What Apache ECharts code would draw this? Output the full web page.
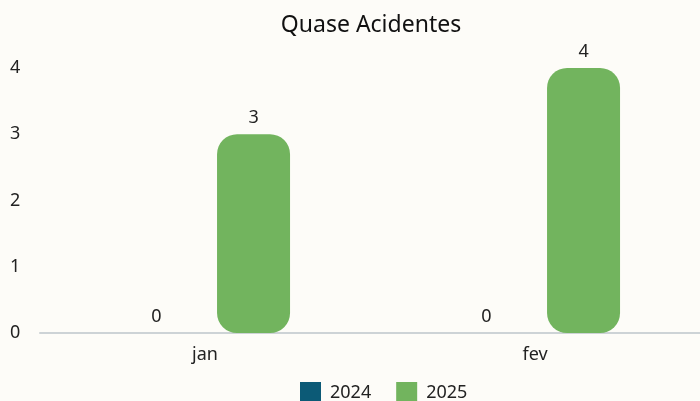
<!DOCTYPE html>
<html>
<head>
<meta charset="utf-8">
<script src="https://cdn.jsdelivr.net/npm/echarts@6/dist/echarts.min.js"></script>
<style>
  html, body { margin: 0; padding: 0; background: #fdfcf8; }
  #chart { width: 700px; height: 401px; }
</style>
</head>
<body>
<div id="chart"></div>
<script>
const months = ['jan', 'fev']
const values2024 = [0, 0]
const values2025 = [3, 4]
const yTicks = [0, 1, 2, 3, 4]

const chart = echarts.init(document.getElementById('chart'))
const font = 'Noto Sans'

chart.setOption({
  backgroundColor: '#fdfcf8',
  title: {
    text: 'Quase Acidentes',
    left: 366,
    textAlign: 'center',
    top: 9,
    textStyle: { fontFamily: font, fontSize: 23, fontWeight: 'normal', color: '#111' }
  },
  legend: {
    top: 382,
    left: 300,
    padding: 0,
    itemWidth: 21,
    itemHeight: 21,
    itemGap: 25,
    icon: 'rect',
    textStyle: { fontFamily: font, fontSize: 18, color: '#222', padding: [0, 0, 0, 4] },
    data: ['2024', '2025']
  },
  grid: { left: 40, right: 0, top: 68, bottom: 68 },
  xAxis: {
    type: 'category',
    data: months,
    axisLine: { lineStyle: { color: '#cdd3d6', width: 2 } },
    axisTick: { show: false },
    axisLabel: { fontFamily: font, fontSize: 18, color: '#222', margin: 13 }
  },
  yAxis: {
    type: 'value',
    min: yTicks[0],
    max: yTicks[yTicks.length - 1],
    interval: 1,
    splitLine: { show: false },
    axisLabel: { fontFamily: font, fontSize: 18, color: '#222', align: 'left', margin: 30 }
  },
  series: [
    {
      name: '2024',
      type: 'bar',
      data: values2024,
      barWidth: 73,
      barGap: '33%',
      itemStyle: { color: '#0c5a76', borderRadius: 20 },
      label: { show: true, position: 'top', fontFamily: font, fontSize: 18, color: '#222', distance: 7 }
    },
    {
      name: '2025',
      type: 'bar',
      data: values2025,
      barWidth: 73,
      itemStyle: { color: '#72b45e', borderRadius: 20 },
      label: { show: true, position: 'top', fontFamily: font, fontSize: 18, color: '#222', distance: 7 }
    }
  ]
})
</script>
</body>
</html>
